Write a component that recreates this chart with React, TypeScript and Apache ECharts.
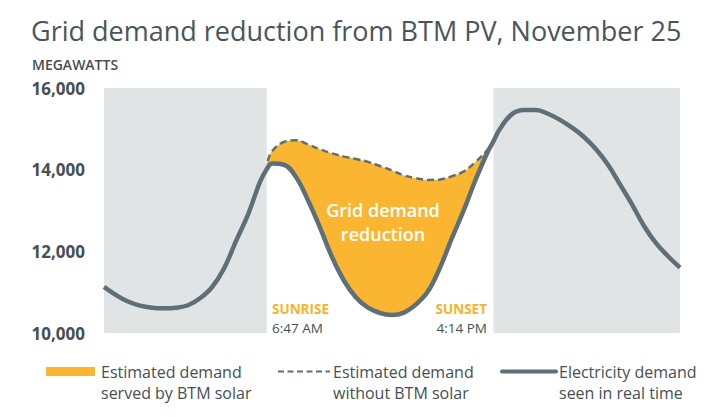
import React, { useEffect, useRef } from "react";
import * as echarts from "echarts";

const hours = [
  0, 0.5, 1, 1.5, 2, 2.5, 3, 3.5, 4, 4.5, 5, 5.5, 6, 6.5, 6.78, 7, 7.5, 8, 8.5, 9, 9.5, 10,
  10.5, 11, 11.5, 12, 12.5, 13, 13.5, 14, 14.5, 15, 15.5, 16, 16.23, 16.5, 17, 17.5, 18,
  18.5, 19, 19.5, 20, 20.5, 21, 21.5, 22, 22.5, 23, 23.5, 24,
];
const realTime = [
  11130, 10930, 10770, 10670, 10620, 10605, 10620, 10680, 10850, 11120, 11580, 12250, 12900,
  13700, 14010, 14150, 14120, 13820, 13250, 12580, 11860, 11280, 10870, 10620, 10490, 10440,
  10500, 10700, 11020, 11600, 12330, 13020, 13780, 14450, 14700, 15000, 15360, 15460, 15460,
  15370, 15220, 15030, 14800, 14500, 14120, 13640, 13150, 12620, 12200, 11880, 11600,
];
const withoutSolar = [
  11130, 10930, 10770, 10670, 10620, 10605, 10620, 10680, 10850, 11120, 11580, 12250, 12900,
  13700, 14140, 14450, 14680, 14720, 14620, 14500, 14400, 14320, 14260, 14190, 14090, 13980,
  13860, 13790, 13750, 13760, 13840, 13960, 14200, 14500, 14700, 15000, 15360, 15460, 15460,
  15370, 15220, 15030, 14800, 14500, 14120, 13640, 13150, 12620, 12200, 11880, 11600,
];
const sunrise = 6.78;
const sunset = 16.23;
const yTicks = [10000, 12000, 14000, 16000];
const legendLabels = [
  ["Estimated demand", "served by BTM solar"],
  ["Estimated demand", "without BTM solar"],
  ["Electricity demand", "seen in real time"],
];

const ORANGE = "#fbb631";
const LINE = "#5e6f77";
const GRAY_BG = "#e1e4e5";
const TEXT = "#454f55";
const FONT = "'Open Sans', 'Noto Sans', sans-serif";

export default function App() {
  const ref = useRef<HTMLDivElement>(null);
  useEffect(() => {
    if (!ref.current) return;
    const chart = echarts.init(ref.current, undefined, { renderer: "svg" });
    // daytime window (slightly wider than sunrise..sunset; the night shading hides the excess)
    const dayIdx = hours
      .map((h, i) => i)
      .filter((i) => hours[i] >= 6.5 && hours[i] <= 16.5);
    const dashedDay = dayIdx.map((i) => [hours[i], withoutSolar[i]]);
    const solidDay = dayIdx.map((i) => [hours[i], realTime[i]]);
    const solid = hours.map((h, i) => [h, realTime[i]]);

    const legendGraphics: any[] = [];
    const lx = [46, 278, 502];
    const tx = [101, 333, 559];
    legendGraphics.push({
      type: "rect",
      shape: { x: lx[0], y: 367, width: 49, height: 9 },
      style: { fill: ORANGE },
    });
    legendGraphics.push({
      type: "line",
      shape: { x1: lx[1], y1: 371.5, x2: lx[1] + 52, y2: 371.5 },
      style: { stroke: LINE, lineWidth: 2, lineDash: [6, 3.5] },
    });
    legendGraphics.push({
      type: "line",
      shape: { x1: lx[2], y1: 371.5, x2: lx[2] + 54, y2: 371.5 },
      style: { stroke: LINE, lineWidth: 4, lineCap: "round" },
    });
    legendLabels.forEach((lines, i) => {
      lines.forEach((t, j) => {
        legendGraphics.push({
          type: "text",
          x: tx[i],
          y: 372 + j * 21,
          style: {
            text: t,
            fill: TEXT,
            fontSize: 16,
            fontFamily: FONT,
            fontWeight: 400,
            textAlign: "left",
            textVerticalAlign: "middle",
          },
        });
      });
    });

    const smallText = (text: string, x: number, y: number, color: string, weight: number, align: string) => ({
      type: "text",
      x,
      y,
      z: 10,
      style: {
        text,
        fill: color,
        fontSize: 13.5,
        fontWeight: weight,
        fontFamily: FONT,
        lineHeight: 14,
        textAlign: align,
        textVerticalAlign: "middle",
      },
    });

    chart.setOption({
      animation: false,
      backgroundColor: "#ffffff",
      grid: { left: 104, right: 25, top: 88, bottom: 84 },
      xAxis: {
        type: "value",
        min: 0,
        max: 24,
        show: false,
      },
      yAxis: {
        type: "value",
        min: yTicks[0],
        max: yTicks[yTicks.length - 1],
        interval: 2000,
        axisLine: { show: false },
        axisTick: { show: false },
        splitLine: { show: false },
        axisLabel: {
          margin: 19,
          color: TEXT,
          fontSize: 17,
          fontWeight: "bold",
          fontFamily: "Open Sans",
          formatter: (v: number) => v.toLocaleString("en-US"),
        },
      },
      series: [
        {
          type: "line",
          name: "Estimated demand without BTM solar",
          data: dashedDay,
          smooth: 0.4,
          symbol: "none",
          areaStyle: { color: ORANGE, opacity: 1, origin: "start" },
          lineStyle: { color: LINE, width: 2.5, type: [7, 4] },
          z: 2,
          silent: true,
        },
        {
          type: "line",
          name: "mask",
          data: solidDay,
          smooth: 0.4,
          symbol: "none",
          areaStyle: { color: "#ffffff", opacity: 1, origin: "start" },
          lineStyle: { width: 0, opacity: 0 },
          z: 3,
          silent: true,
          markArea: {
            silent: true,
            z: 4,
            itemStyle: { color: GRAY_BG },
            data: [
              [{ xAxis: 0 }, { xAxis: sunrise }],
              [{ xAxis: sunset }, { xAxis: 24 }],
            ],
          },
        },
        {
          type: "line",
          name: "Electricity demand seen in real time",
          data: solid,
          smooth: 0.4,
          symbol: "none",
          lineStyle: { color: LINE, width: 4.5 },
          z: 6,
          silent: true,
        },
      ],
      graphic: [
        {
          type: "text",
          x: 31,
          y: 30,
          style: {
            text: "Grid demand reduction from BTM PV, November 25",
            fill: "#4a555b",
            fontSize: 27,
            fontWeight: 400,
            fontFamily: FONT,
            textVerticalAlign: "middle",
          },
        },
        {
          type: "text",
          x: 32,
          y: 64,
          style: {
            text: "MEGAWATTS",
            fill: TEXT,
            fontSize: 14,
            fontWeight: 600,
            fontFamily: FONT,
            textVerticalAlign: "middle",
          },
        },
        {
          type: "text",
          x: 383,
          y: 210,
          z: 10,
          style: {
            text: "Grid demand",
            fill: "#ffffff",
            fontSize: 18,
            fontWeight: 600,
            fontFamily: FONT,
            textAlign: "center",
            textVerticalAlign: "middle",
          },
        },
        {
          type: "text",
          x: 383,
          y: 234,
          z: 10,
          style: {
            text: "reduction",
            fill: "#ffffff",
            fontSize: 18,
            fontWeight: 600,
            fontFamily: FONT,
            textAlign: "center",
            textVerticalAlign: "middle",
          },
        },
        smallText("SUNRISE", 272, 309, "#f9b22a", 700, "left"),
        smallText("6:47 AM", 272, 327.5, TEXT, 400, "left"),
        smallText("SUNSET", 487, 309, "#f9b22a", 700, "right"),
        smallText("4:14 PM", 487, 327.5, TEXT, 400, "right"),
        ...legendGraphics,
      ],
    });
    return () => chart.dispose();
  }, []);
  return <div ref={ref} style={{ width: 705, height: 417, position: "absolute", left: 0, top: 0 }} />;
}
